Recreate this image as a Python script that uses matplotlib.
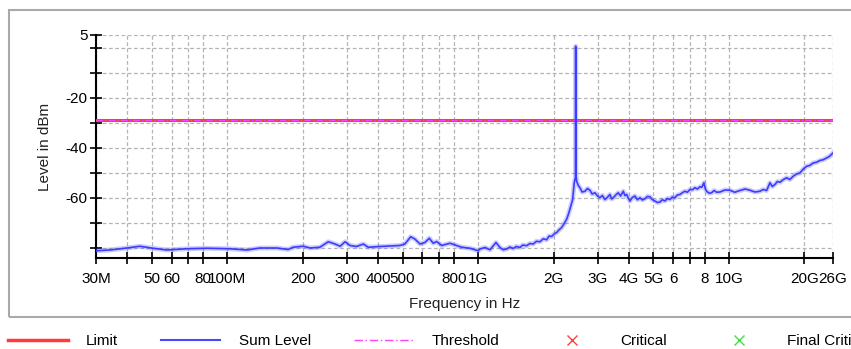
import numpy as np
import matplotlib
matplotlib.use('Agg')
import matplotlib.pyplot as plt
from matplotlib.lines import Line2D
from matplotlib.patches import Rectangle

plt.rcParams['font.family'] = ['Liberation Sans', 'DejaVu Sans']

# sum level trace (freq in MHz, level in dBm)
# 30 MHz .. 2.455 GHz (incl. the 2.45 GHz carrier)
freq_lo_mhz = [30, 34.1, 39.8, 44.9, 50.6, 57.4, 69, 82.9, 102.6, 119.6,
               135, 157.6, 175, 183, 201, 214, 234, 253, 269, 282,
               295, 309, 328, 349, 365, 407, 446, 488, 511, 539,
               560, 587, 614, 639, 663, 684, 716, 773, 822, 861,
               929, 1002, 1018, 1066, 1116, 1179, 1223, 1260, 1300, 1340,
               1381, 1420, 1469, 1510, 1562, 1610, 1660, 1710, 1766, 1820,
               1877, 1920, 1966, 2010, 2058, 2100, 2155, 2200, 2255, 2290,
               2324, 2383, 2418, 2445, 2450, 2455]
level_lo_dbm = [-81.3, -81.0, -80.2, -79.5, -80.3, -81.0, -80.5, -80.3, -80.5, -81.0,
                -80.2, -80.2, -80.8, -79.9, -79.5, -80.2, -79.9, -77.7, -78.6, -79.5,
                -77.7, -79.2, -79.6, -78.6, -79.9, -79.6, -79.4, -79.2, -78.6, -75.7,
                -76.6, -78.6, -78.0, -76.3, -78.3, -77.6, -79.2, -78.3, -79.2, -79.9,
                -80.3, -81.3, -80.6, -80.0, -80.9, -78.0, -80.0, -80.9, -80.6, -79.8,
                -80.4, -79.6, -80.0, -79.0, -79.3, -78.4, -78.6, -77.5, -77.7, -76.5,
                -76.9, -75.4, -75.6, -74.6, -74.0, -73.0, -72.0, -70.6, -68.7, -66.8,
                -64.7, -60.8, -54.1, -52.0, 0.5, -50.8]

# 2.47 GHz .. 26 GHz
freq_hi_mhz = [2472, 2510, 2548, 2600, 2668, 2730, 2793, 2850, 2924, 2990,
               3061, 3130, 3205, 3280, 3355, 3410, 3459, 3540, 3621, 3700,
               3791, 3850, 3912, 3970, 4033, 4120, 4222, 4320, 4420, 4520,
               4627, 4730, 4844, 4950, 5071, 5190, 5309, 5430, 5558, 5690,
               5819, 5950, 6092, 6230, 6378, 6520, 6677, 6830, 6990, 7150,
               7319, 7490, 7664, 7800, 7951, 8050, 8151, 8350, 8533, 8730,
               8934, 9209, 9650, 10096, 10550, 11067, 11600, 12130, 12700, 13297,
               13700, 14139, 14574, 14900, 15259, 15600, 15976, 16450, 16989, 17500,
               18049, 18600, 19191, 19800, 20404, 21000, 21674, 22350, 23050, 23750,
               24510, 25200, 26000]
level_hi_dbm = [-53.5, -55.2, -56.1, -57.8, -57.5, -56.4, -57.1, -58.6, -58.1, -59.3,
                -60.1, -59.2, -60.8, -59.9, -58.8, -60.6, -60.1, -59.0, -58.1, -59.4,
                -57.5, -59.2, -58.8, -60.2, -61.4, -60.0, -59.4, -60.9, -60.1, -61.0,
                -60.5, -59.6, -59.7, -60.8, -61.4, -62.0, -61.8, -60.9, -61.4, -60.4,
                -60.8, -59.8, -60.1, -59.0, -58.8, -58.1, -57.5, -57.9, -56.8, -56.9,
                -56.1, -56.6, -55.7, -55.9, -54.1, -56.5, -57.5, -58.3, -58.1, -57.2,
                -57.9, -57.8, -57.0, -57.1, -57.9, -57.2, -56.6, -57.1, -57.8, -57.5,
                -56.8, -57.2, -54.1, -55.6, -54.8, -53.6, -53.9, -52.9, -52.1, -52.8,
                -51.5, -50.6, -50.2, -48.6, -47.5, -47.2, -46.2, -45.9, -45.2, -44.9,
                -44.2, -43.5, -42.2]

limit_dbm = -29.0
threshold_dbm = -29.0

xtick_hz = [30e6, 40e6, 50e6, 60e6, 70e6, 80e6, 100e6, 200e6, 300e6, 400e6,
            500e6, 600e6, 700e6, 800e6, 1e9, 2e9, 3e9, 4e9, 5e9, 6e9,
            7e9, 8e9, 10e9, 20e9, 26e9]
xtick_lbl = ['30M', '', '50', '60', '', '80', '100M', '200', '300', '400',
             '500', '', '', '800', '1G', '2G', '3G', '4G', '5G', '6',
             '', '8', '10G', '20G', '26G']
ytick_val = [5, 0, -10, -20, -30, -40, -50, -60, -70, -80]
ytick_lbl = ['5', '', '', '-20', '', '-40', '', '-60', '', '']

legend_names = ['Limit', 'Sum Level', 'Threshold', 'Critical', 'Final Critical']

W, H = 851, 349
fs = 11
fig = plt.figure(figsize=(W / 100, H / 100), dpi=100)
ax = fig.add_axes([96 / W, 1 - 257.5 / H, 737 / W, 222.5 / H])

# grey frame round the chart area
fig.patches.append(Rectangle((9 / W, 1 - 317 / H), 1.0, 307 / H,
                             transform=fig.transFigure, fill=False,
                             ec='#a9a9a9', lw=1.5))

f = np.array(freq_lo_mhz + freq_hi_mhz) * 1e6
lv = np.array(level_lo_dbm + level_hi_dbm)
f_lim = [30e6, 26e9]

ax.plot(f_lim, [limit_dbm, limit_dbm], color='#ff3b3b', lw=2.2, zorder=3)
ax.plot(f_lim, [threshold_dbm, threshold_dbm], color='#ff40ff', lw=0.8,
        ls=(0, (6, 2, 1, 2)), zorder=4)
ax.plot(f, lv, color='#5a5aff', lw=3.5, alpha=0.3, zorder=5)
ax.plot(f, lv, color='#3c3cff', lw=1.2, zorder=6)

ax.set_xscale('log')
ax.set_xlim(30e6, 26e9)
ax.set_ylim(-84, 5)
ax.xaxis.set_major_locator(matplotlib.ticker.FixedLocator(xtick_hz))
ax.xaxis.set_major_formatter(matplotlib.ticker.FixedFormatter(xtick_lbl))
ax.xaxis.set_minor_locator(matplotlib.ticker.NullLocator())
ax.set_yticks(ytick_val)
ax.set_yticklabels(ytick_lbl)

ax.tick_params(axis='both', direction='inout', length=9, width=1.2,
               colors='black', labelsize=fs)
ax.tick_params(axis='x', pad=6)
ax.tick_params(axis='y', pad=1.5)

for s in ['top', 'right']:
    ax.spines[s].set_visible(False)
for s in ['left', 'bottom']:
    ax.spines[s].set_linewidth(1.5)

ax.grid(True, color='#b4b4b4', ls=(0, (3, 2)), lw=0.9, zorder=0)
ax.set_axisbelow(True)

ax.set_xlabel('Frequency in Hz', fontsize=fs, color='#222222')
ax.set_ylabel('Level in dBm', fontsize=fs, color='#222222')
ax.xaxis.set_label_coords(0.5, -0.21)
ax.xaxis.label.set_va('center')
ax.yaxis.set_label_coords(-0.069, 0.497)
ax.yaxis.label.set_va('center')

handles = [
    Line2D([], [], color='#ff3b3b', lw=2.5),
    Line2D([], [], color='#4848ff', lw=1.5),
    Line2D([], [], color='#ff40ff', lw=1.0, ls=(0, (6, 2, 1, 2))),
    Line2D([], [], color='#ff4040', ls='none', marker='x', ms=7, mew=1),
    Line2D([], [], color='#40e040', ls='none', marker='x', ms=7, mew=1),
]
fig.legend(handles, legend_names, loc='center left',
           bbox_to_anchor=(8 / W, 1 - 341 / H), ncol=5, frameon=False,
           handlelength=3.9, handletextpad=1.2, columnspacing=2.8,
           borderpad=0, borderaxespad=0, fontsize=fs)

fig.savefig('out.png', dpi=100)
plt.close(fig)
